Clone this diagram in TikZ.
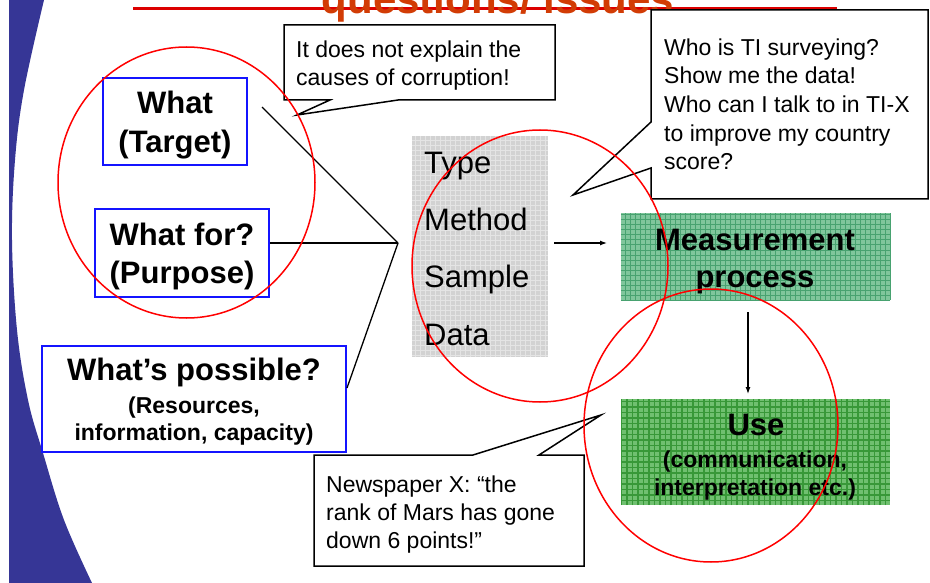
\documentclass[tikz,border=0pt]{standalone}
\usepackage{fontspec}
\setmainfont{Liberation Sans}
\usetikzlibrary{arrows.meta}
\definecolor{bgblue}{RGB}{54,54,150}
\definecolor{titlecol}{RGB}{210,60,5}
\definecolor{linered}{RGB}{220,0,0}
\definecolor{circred}{RGB}{255,0,0}
\definecolor{boxblue}{RGB}{20,20,255}
\definecolor{graybase}{RGB}{210,210,210}
\definecolor{grayline}{RGB}{228,228,228}
\definecolor{greenAbase}{RGB}{128,198,156}
\definecolor{greenAline}{RGB}{72,162,112}
\definecolor{greenBbase}{RGB}{112,192,112}
\definecolor{greenBline}{RGB}{56,152,56}
\tikzset{
  bluebox/.style={draw=boxblue, line width=2pt, fill=white, inner sep=0pt},
  callout/.style={draw=black, line width=1.5pt, fill=white, line join=miter},
  calltext/.style={anchor=north west, inner sep=0pt, align=left, font=\fontsize{23}{28.5}\selectfont},
  boldtext/.style={inner sep=0pt, align=center, font=\fontsize{31}{39}\selectfont\bfseries},
  connector/.style={draw=black, line width=1.3pt},
  arrowline/.style={draw=black, line width=1.2pt, -{Latex[length=7pt,width=5pt]}},
  ring/.style={draw=circred, line width=1.5pt},
  plainbox/.style={inner sep=0pt, draw=none},
}
\begin{document}
\begin{tikzpicture}[x=1pt,y=-1pt]
\useasboundingbox (0,0) rectangle (930,583);
\clip (0,0) rectangle (930,583);
\fill[white] (0,0) rectangle (930,583);
% left background band
\fill[bgblue] (9,0) -- plot[smooth, tension=0.6] coordinates {(44,0) (24,90) (15,160) (12,240) (17,330) (28,400) (43,453) (64,520) (92,583)} -- (9,583) -- cycle;

% title remnant
\draw[linered, line width=3pt] (133,9) -- (837,9);
\node[anchor=base, text=titlecol, inner sep=0pt, font=\fontsize{42}{50}\selectfont\bfseries] (title) at (498,14) {questions/ issues};

% callout 1
\draw[callout] (284,25) -- (555,25) -- (555,100) -- (398,100) -- (297,115) -- (330,100) -- (284,100) -- cycle;
\node[calltext] (c1text) at (296,40) {\rule{0pt}{17pt}It does not explain the\\causes of corruption!};

% callout 2
\draw[callout] (651,10) -- (928,10) -- (928,199) -- (651,199) -- (651,168) -- (573,195) -- (651,122) -- cycle;
\node[calltext, font=\fontsize{23}{28.7}\selectfont] (c2text) at (664,38) {\rule{0pt}{17pt}Who is TI surveying?\\Show me the data!\\Who can I talk to in TI-X\\to improve my country\\score?};

% callout 3
\draw[callout] (314,455) -- (473,455) -- (601,415) -- (539,455) -- (584,455) -- (584,566) -- (314,566) -- cycle;
\node[calltext, font=\fontsize{23}{28}\selectfont] (c3text) at (326,475) {\rule{0pt}{17pt}Newspaper X: “the\\rank of Mars has gone\\down 6 points!”};

% blue boxes
\node[bluebox, minimum width=144pt, minimum height=87pt] (target) at (175,121.5) {};
\node[bluebox, minimum width=174pt, minimum height=88pt] (purpose) at (182,253) {};
\node[bluebox, minimum width=304pt, minimum height=106pt] (possible) at (194,399) {};
\node[boldtext, anchor=north] (targetlbl) at (175,90) {\rule{0pt}{23pt}What\\(Target)};
\node[boldtext, anchor=north, font=\fontsize{31}{38}\selectfont\bfseries] (purposelbl) at (182,222) {\rule{0pt}{23pt}What for?\\(Purpose)};
\node[boldtext, anchor=base] (possiblelbl) at (194,380) {What’s possible?};
\node[boldtext, anchor=north, font=\fontsize{23}{27}\selectfont\bfseries] (possibledet) at (194,396) {\rule{0pt}{17pt}(Resources,\\information, capacity)};

% gray box
\node[plainbox, fill=graybase, minimum width=136pt, minimum height=221pt] (gray) at (480,246.5) {};
\draw[grayline, line width=0.8pt, step=5pt] (gray.south west) grid (gray.north east);
\node[anchor=north west, inner sep=0pt, align=left, font=\fontsize{31}{57.3}\selectfont] (methods) at (424,150) {\rule{0pt}{23pt}Type\\Method\\Sample\\Data};

% green boxes
\node[plainbox, fill=greenAbase, minimum width=269pt, minimum height=87pt] (measure) at (755.5,256.5) {};
\draw[greenAline, line width=1pt, step=5pt] (measure.south west) grid (measure.north east);
\node[boldtext, anchor=north, font=\fontsize{31}{37}\selectfont\bfseries] (measurelbl) at (755,227) {\rule{0pt}{23pt}Measurement\\process};

\node[plainbox, fill=greenBbase, minimum width=269pt, minimum height=106pt] (use) at (755.5,452) {};
\draw[greenBline, line width=1.3pt, step=5.5pt] (use.south west) grid (use.north east);
\node[boldtext, anchor=base] (uselbl) at (756,435) {Use};
\node[boldtext, anchor=north, font=\fontsize{23}{28}\selectfont\bfseries] (usedet) at (755,450) {\rule{0pt}{17pt}(communication,\\interpretation etc.)};

% connectors
\coordinate (hub) at (398,243);
\coordinate (tstart) at (262,107);
\draw[connector] (tstart) -- (hub);
\draw[connector] (purpose.east |- hub) -- (hub);
\draw[connector] ([yshift=11pt]possible.east) -- (hub);

\coordinate (a1s) at (554,243);
\coordinate (a1e) at (607,243);
\draw[arrowline] (a1s) -- (a1e);
\coordinate (a2s) at (748,312);
\coordinate (a2e) at (748,394);
\draw[arrowline] (a2s) -- (a2e);

% red rings
\draw[ring] (186.5,182.5) ellipse [x radius=128.5, y radius=135.5];
\draw[ring] (540,266) ellipse [x radius=128, y radius=136];
\draw[ring] (711,425.5) ellipse [x radius=127, y radius=136.5];
\end{tikzpicture}
\end{document}
